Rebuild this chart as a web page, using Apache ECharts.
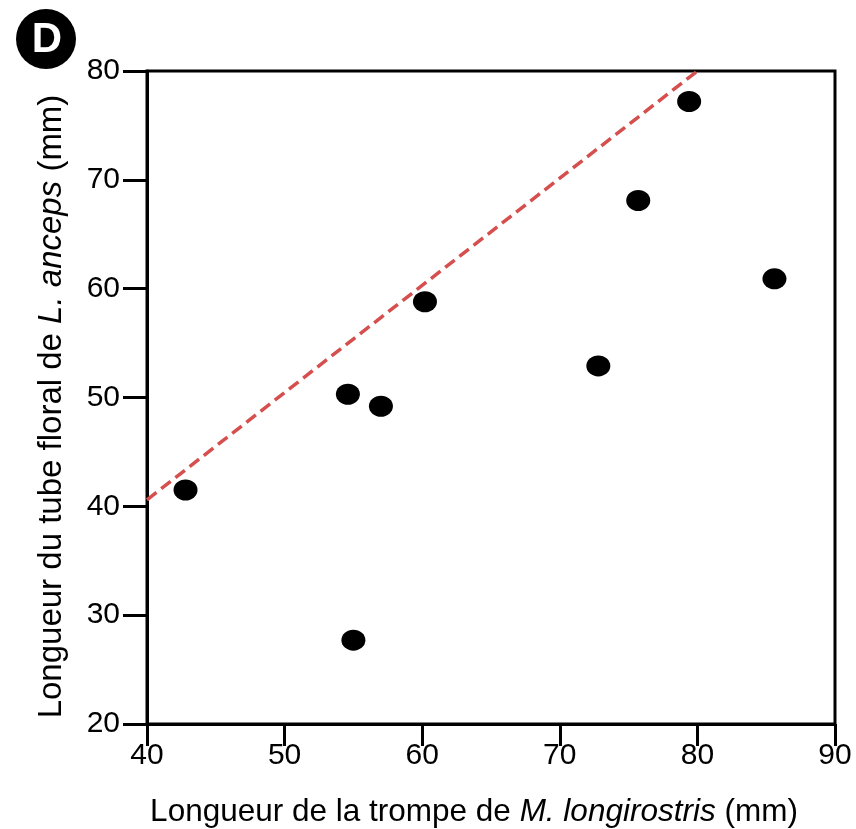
<!DOCTYPE html>
<html>
<head>
<meta charset="utf-8">
<script src="https://cdn.jsdelivr.net/npm/echarts@6/dist/echarts.min.js"></script>
<style>html,body{margin:0;padding:0;background:#fff}#c{width:856px;height:829px}</style>
</head>
<body>
<div id="c"></div>
<script>
var proboscisLength = [42.8, 54.6, 57.0, 60.2, 55.0, 72.8, 75.7, 79.4, 85.6];
var tubeLength      = [41.5, 50.3, 49.2, 58.8, 27.7, 52.9, 68.1, 77.2, 60.9];
var lineX = [40, 80];
var lineY = [40.6, 80];
var xTicks = [40, 50, 60, 70, 80, 90];
var yTicks = [20, 30, 40, 50, 60, 70, 80];

var FONT = '"Liberation Sans", Arial, sans-serif';
var chart = echarts.init(document.getElementById('c'), null, {renderer: 'canvas'});
chart.setOption({
  animation: false,
  backgroundColor: '#fff',
  grid: {left: 147, right: 21, top: 71, bottom: 105, outerBoundsMode: 'none', containLabel: false,
         show: true, borderColor: '#000', borderWidth: 3, backgroundColor: 'transparent'},
  graphic: [
    {type: 'circle', shape: {cx: 46, cy: 39, r: 30}, style: {fill: '#000'}},
    {type: 'text', style: {text: 'D', x: 47, y: 40, fill: '#fff', font: 'bold 42px ' + FONT, textAlign: 'center', textVerticalAlign: 'middle'}}
  ],
  xAxis: {
    type: 'value', min: xTicks[0], max: xTicks[xTicks.length - 1], interval: 10,
    splitLine: {show: false},
    axisLine: {show: true, onZero: false, lineStyle: {color: '#000', width: 3}},
    axisTick: {show: true, length: 22, lineStyle: {color: '#000', width: 3}},
    axisLabel: {margin: 17, color: '#000', fontSize: 30, fontFamily: FONT},
    name: '{n|Longueur de la trompe de }{i|M. longirostris}{n| (mm)}',
    nameLocation: 'middle', nameGap: 72,
    nameTextStyle: {padding: [0, 34, 0, 0], rich: {
      n: {fontSize: 31.5, fontFamily: FONT, color: '#000'},
      i: {fontSize: 31.5, fontFamily: FONT, color: '#000', fontStyle: 'italic'}
    }}
  },
  yAxis: {
    type: 'value', min: yTicks[0], max: yTicks[yTicks.length - 1], interval: 10,
    splitLine: {show: false},
    axisLine: {show: true, onZero: false, lineStyle: {color: '#000', width: 3}},
    axisTick: {show: true, length: 24, lineStyle: {color: '#000', width: 3}},
    axisLabel: {margin: 27, color: '#000', fontSize: 30, fontFamily: FONT},
    name: '{n|Longueur du tube floral de }{i|L. anceps}{n| (mm)}',
    nameLocation: 'middle', nameGap: 79,
    nameTextStyle: {padding: [0, 18, 0, 0], rich: {
      n: {fontSize: 33, fontFamily: FONT, color: '#000'},
      i: {fontSize: 33, fontFamily: FONT, color: '#000', fontStyle: 'italic'}
    }}
  },
  series: [
    {
      type: 'line', data: lineX.map(function (x, i) { return [x, lineY[i]]; }),
      symbol: 'none', silent: true,
      lineStyle: {color: '#d64f4f', width: 3.5, type: [12, 6]}
    },
    {
      type: 'scatter', data: proboscisLength.map(function (x, i) { return [x, tubeLength[i]]; }),
      symbol: 'circle', symbolSize: [24, 21],
      itemStyle: {color: '#000', opacity: 1}
    }
  ]
});
</script>
</body>
</html>
